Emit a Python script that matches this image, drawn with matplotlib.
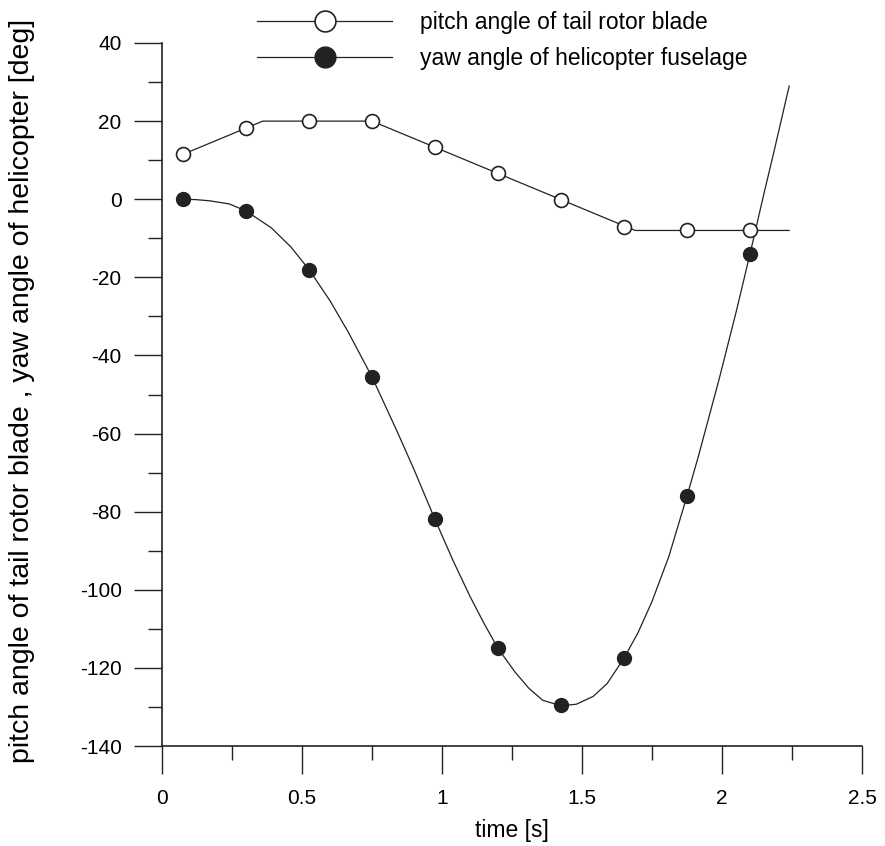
import matplotlib.pyplot as plt
import numpy as np

plt.rcParams['font.family'] = ['Liberation Sans', 'DejaVu Sans']
plt.rcParams['axes.unicode_minus'] = False

# sample times (markers)
t_mark = [0.075, 0.3, 0.525, 0.75, 0.975, 1.2, 1.425, 1.65, 1.875, 2.1]
pitch_mark = [11.5, 18.2, 20, 20, 13.3, 6.7, -0.3, -7.2, -8, -8]
yaw_mark = [0, -3, -18, -45.5, -82, -115, -129.5, -117.5, -76, -14]

# pitch command line (corners)
t_pitch = [0.075, 0.36, 0.75, 1.69, 2.24]
pitch_line = [11.5, 20, 20, -8, -8]

# yaw response line
t_yaw = [0.075, 0.12, 0.17, 0.24, 0.30, 0.39, 0.46, 0.525, 0.60, 0.665,
         0.75, 0.84, 0.90, 0.975, 1.04, 1.10, 1.15, 1.20, 1.26, 1.31,
         1.36, 1.425, 1.48, 1.54, 1.59, 1.65, 1.70, 1.75, 1.81, 1.875,
         1.915, 1.99, 2.05, 2.10, 2.15, 2.185, 2.24]
yaw_line = [0, -0.1, -0.4, -1.2, -3, -7.3, -12.2, -18, -26, -34,
            -45.5, -59.5, -69.2, -82, -92.6, -101.7, -108.6, -115, -121, -125.2,
            -128.3, -129.7, -129.3, -127.3, -124, -117.5, -111, -103, -91.5, -76,
            -66, -46, -29, -14, 1.5, 12, 29]

fig = plt.figure(figsize=(8.85, 8.46), dpi=100)
ax = fig.add_axes([162/885, 1 - 746/846, (862-162)/885, (746-43)/846])

lc = '#222222'
ax.plot(t_pitch, pitch_line, color=lc, lw=0.9)
ax.plot(t_yaw, yaw_line, color=lc, lw=0.9)
ax.plot(t_mark, pitch_mark, 'o', ms=10, mfc='white', mec=lc, mew=1.2)
ax.plot(t_mark, yaw_mark, 'o', ms=10, mfc=lc, mec=lc)

# legend handles
h1, = ax.plot([], [], '-o', color=lc, lw=0.9, ms=15, mfc='white', mec=lc, mew=1.2)
h2, = ax.plot([], [], '-o', color=lc, lw=0.9, ms=15, mfc=lc, mec=lc)
fig.legend([h1, h2], ['pitch angle of tail rotor blade', 'yaw angle of helicopter fuselage'],
           loc='upper left', bbox_to_anchor=(257/885, 1 - 11/846), frameon=False,
           fontsize=16.5, handlelength=5.9, handletextpad=1.2, labelspacing=0.55,
           borderpad=0, borderaxespad=0)

ax.set_xlim(0, 2.5)
ax.set_ylim(-140, 40)
ax.set_xticks(np.arange(0, 2.51, 0.5))
ax.set_xticks(np.arange(0, 2.51, 0.25), minor=True)
ax.set_yticks(np.arange(-140, 41, 20))
ax.set_yticks(np.arange(-140, 41, 10), minor=True)
ax.set_xticklabels(['0', '0.5', '1', '1.5', '2', '2.5'])

for s in ['top', 'right']:
    ax.spines[s].set_visible(False)
for s in ['left', 'bottom']:
    ax.spines[s].set_linewidth(1.2)
    ax.spines[s].set_color(lc)

ax.tick_params(which='major', direction='out', length=20, width=1.0, color=lc,
               labelsize=15, pad=9)
ax.tick_params(axis='x', which='major', pad=11)
ax.tick_params(which='minor', direction='out', length=10, width=1.0, color=lc)

ax.set_xlabel('time [s]', fontsize=16.5, labelpad=8)
ax.set_ylabel('pitch angle of tail rotor blade , yaw angle of helicopter [deg]',
              fontsize=20.5)
ax.yaxis.set_label_coords(-0.182, 0.505)

plt.savefig('out.png', dpi=100)
